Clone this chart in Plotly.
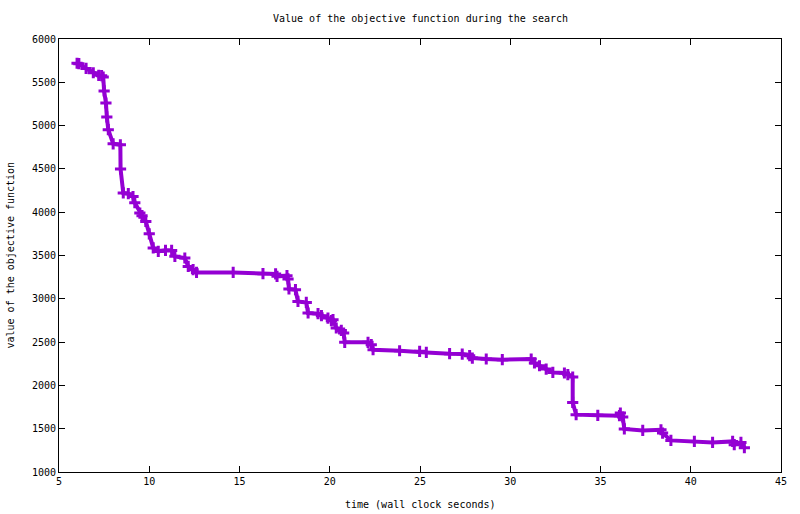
import plotly.graph_objects as go

time_s = [6.0, 6.1, 6.5, 6.9, 7.2, 7.36, 7.45, 7.5, 7.6, 7.65, 7.73, 8.0, 8.4, 8.41, 8.56, 8.84,
          9.1, 9.2, 9.48, 9.6, 9.81, 10.0, 10.22, 10.5, 10.9, 11.24, 11.42, 11.97, 12.16, 12.43,
          12.62, 14.65, 16.3, 17.0, 17.08, 17.63, 17.69, 17.74, 18.1, 18.24, 18.7, 18.8, 19.35,
          19.54, 19.9, 20.09, 20.18, 20.36, 20.64, 20.77, 20.83, 22.12, 22.3, 22.4, 23.87, 24.98,
          25.35, 26.64, 27.34, 27.75, 27.9, 28.67, 29.56, 31.16, 31.34, 31.62, 31.99, 32.36,
          33.0, 33.19, 33.46, 33.46, 33.65, 34.85, 36.05, 36.1, 36.23, 36.32, 37.34, 38.35,
          38.44, 38.9, 40.2, 41.21, 42.32, 42.41, 42.78, 42.97]
objective = [5720, 5715, 5660, 5610, 5580, 5576, 5560, 5400, 5261, 5100, 4953, 4790, 4779, 4499,
             4222, 4214, 4180, 4110, 3990, 3960, 3894, 3750, 3587, 3547, 3560, 3559, 3490, 3471,
             3374, 3336, 3305, 3305, 3290, 3287, 3259, 3267, 3229, 3113, 3105, 2970, 2958, 2836,
             2828, 2805, 2778, 2747, 2759, 2663, 2635, 2605, 2497, 2497, 2470, 2412, 2400, 2393,
             2381, 2366, 2362, 2343, 2316, 2305, 2297, 2305, 2259, 2227, 2189, 2150, 2143, 2124,
             2097, 1803, 1662, 1654, 1650, 1681, 1635, 1497, 1480, 1488, 1450, 1365, 1353, 1342,
             1353, 1315, 1342, 1280]

x_ticks = [5, 10, 15, 20, 25, 30, 35, 40, 45]
y_ticks = [1000, 1500, 2000, 2500, 3000, 3500, 4000, 4500, 5000, 5500, 6000]

violet = "#9400D3"
mono = "DejaVu Sans Mono"
font = dict(family=mono, size=10, color="black")

fig = go.Figure()
fig.add_trace(go.Scatter(
    x=time_s, y=objective, mode="lines+markers",
    line=dict(color=violet, width=4),
    marker=dict(symbol="cross-thin", size=8, color=violet,
                line=dict(color=violet, width=3)),
    showlegend=False,
))

axis_common = dict(showline=True, linecolor="black", linewidth=1, mirror="ticks",
                   ticks="inside", ticklen=6, tickcolor="black", showgrid=False,
                   zeroline=False, tickfont=font, automargin=False)

fig.update_layout(
    width=800, height=514,
    margin=dict(l=59, r=19, t=39, b=42),
    paper_bgcolor="white", plot_bgcolor="white",
    font=font,
    xaxis=dict(range=[5, 45], tickvals=x_ticks, ticktext=[str(t) for t in x_ticks],
               **axis_common),
    yaxis=dict(range=[1000, 6000], tickvals=y_ticks, ticktext=[str(t) for t in y_ticks],
               **axis_common),
    annotations=[
        dict(text="Value of the objective function during the search", xref="paper", yref="paper",
             x=0.5, y=(472 - 19) / 433, xanchor="center", yanchor="middle",
             showarrow=False, font=dict(family=mono, size=10)),
        dict(text="time (wall clock seconds)", xref="paper", yref="paper",
             x=0.5, y=-(505 - 472) / 433, xanchor="center", yanchor="middle",
             showarrow=False, font=dict(family=mono, size=10)),
        dict(text="value of the objective function", xref="paper", yref="paper",
             x=-(59 - 10) / 722, y=0.5, xanchor="center", yanchor="middle", textangle=-90,
             showarrow=False, font=dict(family=mono, size=10)),
    ],
)

fig.write_html("out.html", config={"displayModeBar": False},
               post_script="document.body.style.margin='0';")
